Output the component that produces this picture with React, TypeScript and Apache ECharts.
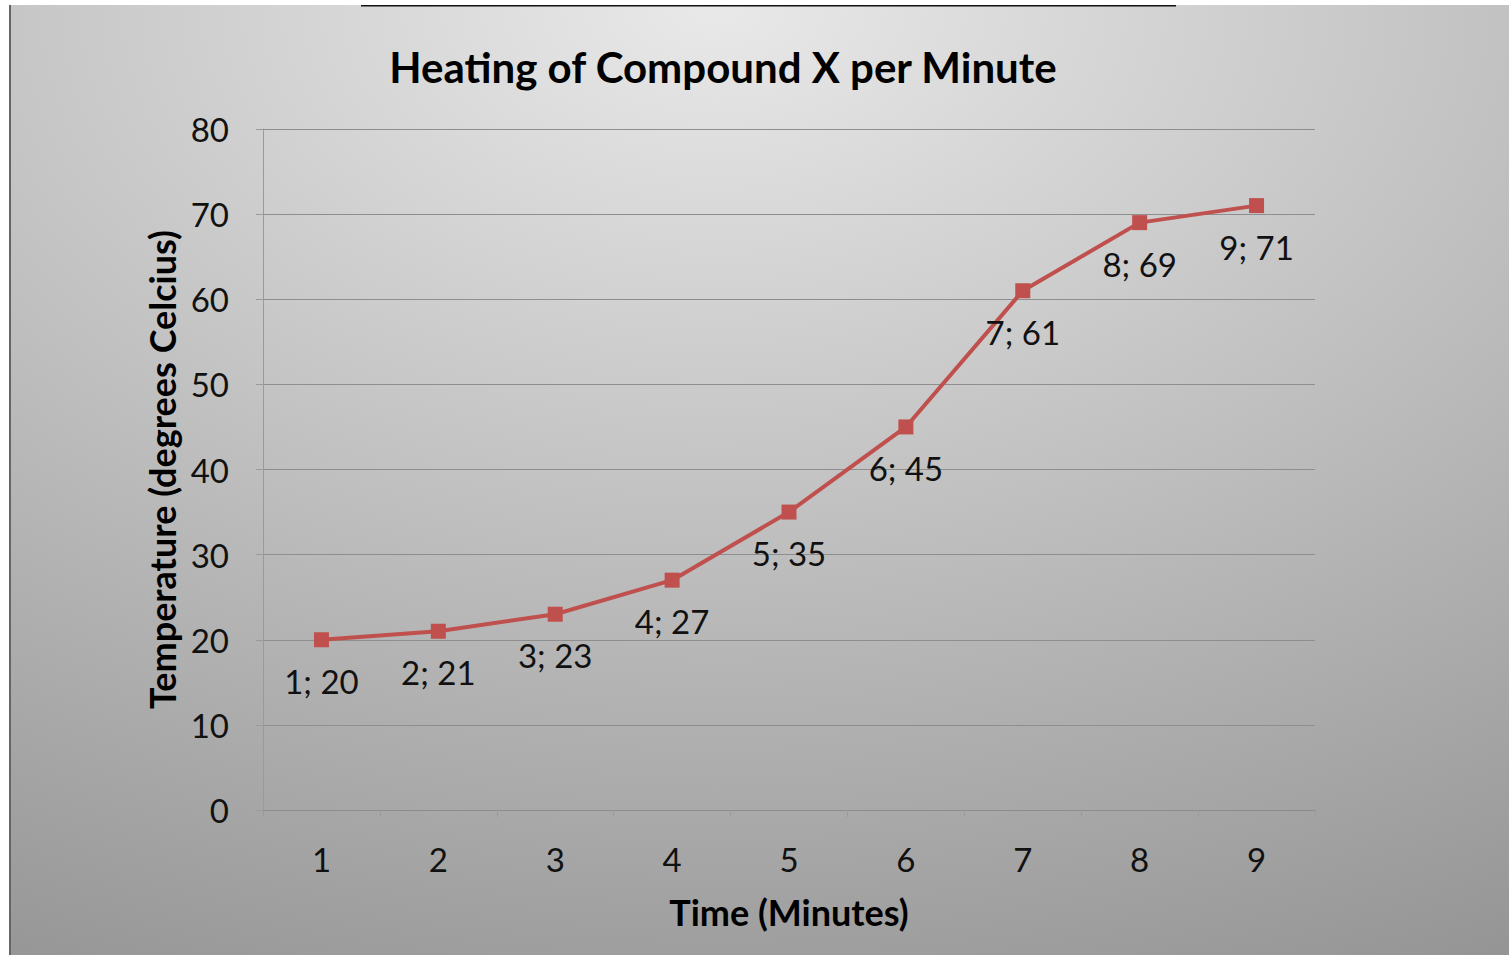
import React, { useEffect, useRef } from "react";
import * as echarts from "echarts";

const minutes = ["1", "2", "3", "4", "5", "6", "7", "8", "9"];
const temperatures = [20, 21, 23, 27, 35, 45, 61, 69, 71];
const titleText = "Heating of Compound X per Minute";
const xName = "Time (Minutes)";
const yName = "Temperature (degrees Celcius)";

const FONT = "Lato";

export default function App() {
  const ref = useRef<HTMLDivElement>(null);
  useEffect(() => {
    if (!ref.current) return;
    const chart = echarts.init(ref.current, null, { renderer: "svg" });
    chart.setOption({
      animation: false,
      backgroundColor: {
        type: "radial",
        x: 0.47,
        y: 0,
        r: 1.3,
        colorStops: [
          { offset: 0, color: "#e9e9e9" },
          { offset: 1, color: "#888888" },
        ],
      },
      title: {
        text: titleText,
        left: 709,
        top: 36,
        textAlign: "center",
        textStyle: { fontFamily: FONT, fontWeight: "bold", fontSize: 42, color: "#000" },
      },
      graphic: [
        { type: "line", shape: { x1: 352, y1: 0, x2: 1167, y2: 0 }, style: { stroke: "#111", lineWidth: 3 } },
        { type: "line", shape: { x1: 1, y1: 0, x2: 1, y2: 950 }, style: { stroke: "#666", lineWidth: 2 } },
      ],
      grid: { left: 254, top: 124, right: 194, bottom: 145 },
      xAxis: {
        type: "category",
        data: minutes,
        boundaryGap: true,
        name: xName,
        nameLocation: "middle",
        nameGap: 84,
        nameTextStyle: { fontFamily: FONT, fontWeight: "bold", fontSize: 36, color: "#000" },
        axisLine: { lineStyle: { color: "#8c8c8c", width: 1 } },
        axisTick: { show: true, length: 7, lineStyle: { color: "#9a9a9a" } },
        axisLabel: { fontFamily: FONT, fontSize: 33, color: "#111", margin: 32 },
        splitLine: { show: false },
      },
      yAxis: {
        type: "value",
        min: 0,
        max: 80,
        interval: 10,
        name: yName,
        nameLocation: "middle",
        nameRotate: 90,
        nameGap: 83,
        nameTextStyle: { fontFamily: FONT, fontWeight: "bold", fontSize: 36, color: "#000" },
        axisLine: { show: true, lineStyle: { color: "#9a9a9a", width: 1 } },
        axisTick: { show: true, length: 7, inside: false, lineStyle: { color: "#9a9a9a" } },
        axisLabel: { fontFamily: FONT, fontSize: 33, color: "#111", margin: 34 },
        splitLine: { show: true, lineStyle: { color: "#8e8e8e", width: 1 } },
      },
      series: [
        {
          type: "line",
          data: temperatures,
          symbol: "rect",
          symbolSize: 15,
          itemStyle: { color: "#c0504d" },
          lineStyle: { color: "#c0504d", width: 4 },
          label: {
            show: true,
            position: "bottom",
            distance: 17,
            formatter: "{b}; {c}",
            fontFamily: FONT,
            fontSize: 33,
            color: "#111",
          },
        },
      ],
    });
    return () => chart.dispose();
  }, []);
  return (
    <div
      ref={ref}
      style={{ position: "absolute", left: 9, top: 5, width: 1500, height: 950 }}
    />
  );
}
